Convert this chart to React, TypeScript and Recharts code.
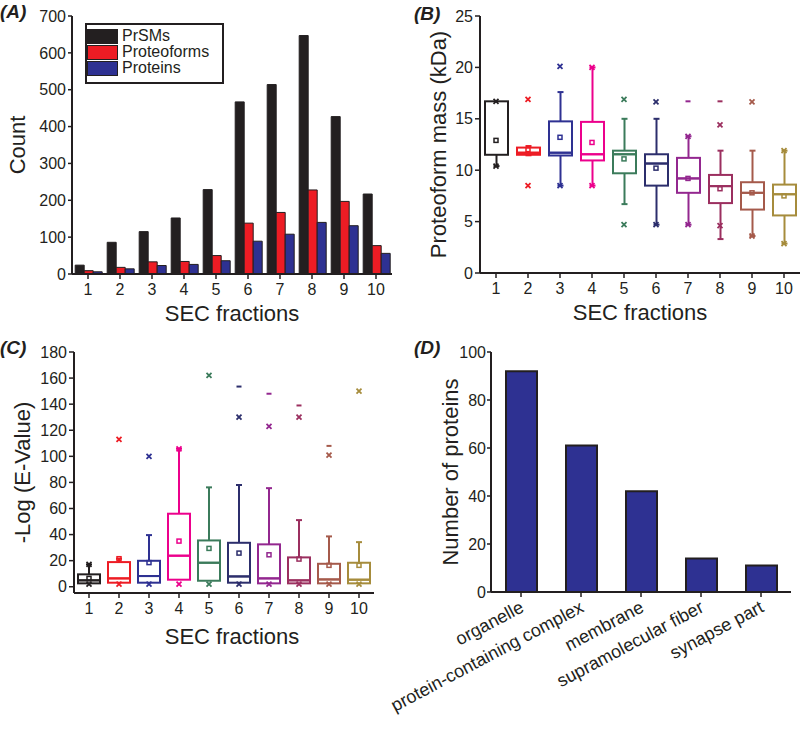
import React from 'react';
import { BarChart, Bar, ComposedChart, Scatter, XAxis, YAxis, Legend } from 'recharts';

const FONT = '"Liberation Sans", Arial, sans-serif';
const INK = '#231f20';

// (A) counts per SEC fraction
const fractions = ['1', '2', '3', '4', '5', '6', '7', '8', '9', '10'];
const seriesNames = ['PrSMs', 'Proteoforms', 'Proteins'];
const prsms = [24, 86, 115, 152, 229, 467, 514, 647, 427, 217];
const proteoforms = [9, 18, 33, 34, 50, 138, 167, 228, 197, 77];
const proteins = [6, 14, 23, 26, 36, 89, 108, 140, 131, 56];

const fractionColors = ['#231f20', '#ed1c24', '#2e3192', '#ec008c', '#3b7b5b', '#2c2e6c', '#93278f', '#9b2f5f', '#a55a4b', '#a68c3c'];

// (B) proteoform mass box plots (kDa)
const massLow = [10.4, 11.45, 8.5, 8.5, 6.7, 4.7, 4.7, 3.3, 3.6, 2.86];
const massQ1 = [11.5, 11.5, 11.43, 10.95, 9.7, 8.5, 7.8, 6.8, 6.17, 5.6];
const massMedian = [11.5, 11.7, 11.7, 11.55, 11.55, 10.65, 9.2, 8.45, 7.8, 7.66];
const massQ3 = [16.7, 12.2, 14.75, 14.7, 11.9, 11.55, 11.2, 9.54, 8.83, 8.6];
const massHigh = [16.7, 12.35, 17.6, 20.0, 15.0, 15.0, 13.3, 11.9, 11.9, 11.9];
const massMean = [12.9, 12.0, 13.2, 12.7, 11.1, 10.2, 9.2, 8.2, 7.8, 7.5];
const massCrossHigh = [16.7, 16.9, 20.1, 20.0, 16.9, 16.65, 13.3, 14.4, 16.65, 11.9];
const massCrossLow = [10.4, 8.5, 8.5, 8.5, 4.7, 4.7, 4.7, 4.6, 3.6, 2.86];
const massDash = [null, null, null, null, null, null, 16.7, 16.7, null, null];

// (C) -log(E-value) box plots
const evLow = [2.6, 3.1, 3.1, 5.4, 4.6, 3.1, 2.6, 2.6, 2.6, 2.6];
const evQ1 = [2.6, 3.1, 3.1, 5.4, 4.6, 3.1, 2.6, 2.6, 2.6, 2.6];
const evMedian = [4.9, 6.4, 8.2, 23.8, 18.4, 7.9, 6.4, 4.9, 5.6, 5.4];
const evQ3 = [9.5, 18.9, 19.9, 56.0, 35.5, 33.7, 32.5, 22.5, 17.6, 18.4];
const evHigh = [17.1, 21.5, 39.6, 105.8, 76.2, 78, 75.6, 51.1, 38.6, 34.2];
const evMean = [6.4, 21.5, 18.5, 35, 29.4, 25.8, 24.5, 21.2, 16.4, 16.4];
const evCrossHigh = [17.1, 113, 100, 105.8, 162, 130, 123, 130, 101, 150];
const evCrossLow = [2, 2, 2, 2, 2, 2, 2, 2, 2, 2];
const evDash = [null, null, null, null, null, 153.5, 148, 139, 108, null];

// (D) cellular components
const components = ['organelle', 'protein-containing complex', 'membrane', 'supramolecular fiber', 'synapse part'];
const proteinCounts = [92, 61, 42, 14, 11];

const countRows = fractions.map((f, i) => ({
    fraction: f,
    PrSMs: prsms[i],
    Proteoforms: proteoforms[i],
    Proteins: proteins[i],
}));

const boxRows = (lo: number[], q1: number[], med: number[], q3: number[], hi: number[], mean: number[],
    crossHigh: (number | null)[], crossLow: (number | null)[], dash: (number | null)[]) =>
    fractions.map((f, i) => ({
        fraction: f,
        color: fractionColors[i],
        base: lo[i],
        lowerWhisker: q1[i] - lo[i],
        lowerBox: med[i] - q1[i],
        upperBox: q3[i] - med[i],
        upperWhisker: hi[i] - q3[i],
        mean: mean[i],
        crossHigh: crossHigh[i],
        crossLow: crossLow[i],
        dash: dash[i],
    }));

const massRows = boxRows(massLow, massQ1, massMedian, massQ3, massHigh, massMean, massCrossHigh, massCrossLow, massDash);
const evRows = boxRows(evLow, evQ1, evMedian, evQ3, evHigh, evMean, evCrossHigh, evCrossLow, evDash);
const componentRows = components.map((c, i) => ({ component: c, count: proteinCounts[i] }));

const tickStyle = { fill: INK, fontSize: 16, fontFamily: FONT };
const axisLine = { stroke: INK, strokeWidth: 2 };
const tickLine = { stroke: INK, strokeWidth: 1.5 };
const titleStyle = { fill: INK, fontSize: 22, fontFamily: FONT };

const Empty = () => <g />;

const whisker = (cap: 'top' | 'bottom') => (props: any) => {
    const { x, y, width, height, payload } = props;
    if (!(height > 0)) return <g />;
    const cx = x + width / 2;
    const capY = cap === 'top' ? y : y + height;
    return (
        <g stroke={payload.color} strokeWidth={2}>
            <line x1={cx} x2={cx} y1={y} y2={y + height} />
            <line x1={cx - 3} x2={cx + 3} y1={capY} y2={capY} />
        </g>
    );
};

const BoxPart = (props: any) => {
    const { x, y, width, height, payload } = props;
    if (!(height >= 0) || !isFinite(y)) return <g />;
    return <rect x={x + 1} y={y} width={width - 2} height={height} fill="none" stroke={payload.color} strokeWidth={2} />;
};

const marker = (key: string, kind: 'cross' | 'square' | 'dash') => (props: any) => {
    const { cx, cy, payload } = props;
    if (payload == null || payload[key] == null || !isFinite(cx) || !isFinite(cy)) return <g />;
    const c = payload.color;
    if (kind === 'cross') {
        return (
            <g stroke={c} strokeWidth={1.8}>
                <line x1={cx - 2.5} x2={cx + 2.5} y1={cy - 2.5} y2={cy + 2.5} />
                <line x1={cx - 2.5} x2={cx + 2.5} y1={cy + 2.5} y2={cy - 2.5} />
            </g>
        );
    }
    if (kind === 'square') {
        return <rect x={cx - 2} y={cy - 2} width={4} height={4} fill="none" stroke={c} strokeWidth={1.5} />;
    }
    return <line x1={cx - 2.5} x2={cx + 2.5} y1={cy} y2={cy} stroke={c} strokeWidth={2} />;
};

const renderLegend = (props: any) => {
    const items = [...(props.payload || [])].sort(
        (a: any, b: any) => seriesNames.indexOf(a.value) - seriesNames.indexOf(b.value));
    return (
        <div style={{ border: `2px solid ${INK}`, width: 135, height: 54, paddingTop: 3, boxSizing: 'content-box', background: '#fff' }}>
            {items.map((entry: any) => (
                <div key={entry.value} style={{ display: 'flex', alignItems: 'center', height: 16 }}>
                    <span style={{ width: 29, height: 13, background: entry.color, border: `1px solid ${INK}`, marginRight: 4 }} />
                    <span style={{ fontFamily: FONT, fontSize: 16, color: INK, lineHeight: '16px' }}>{entry.value}</span>
                </div>
            ))}
        </div>
    );
};

const SlantTick = (props: any) => {
    const { x, y, payload } = props;
    return (
        <text x={x + 4} y={y + 12} transform={`rotate(-28, ${x + 4}, ${y + 12})`} textAnchor="end"
            fontSize={18} fontFamily={FONT} fill={INK}>
            {payload.value}
        </text>
    );
};

const panelLabel = (text: string, left: number, top: number) => (
    <div style={{ position: 'absolute', left, top, fontFamily: FONT, fontSize: 19, fontWeight: 'bold', fontStyle: 'italic', color: INK }}>
        {text}
    </div>
);

const BoxChart = ({ rows, domain, ticks, yLabel, yWidth, barSize, margin, labelOffset, xLabelDx }: any) => (
    <ComposedChart width={400} height={margin.h} data={rows} margin={{ top: margin.top, right: margin.right, bottom: margin.bottom, left: 0 }}>
        <XAxis dataKey="fraction" interval={0} height={60} tickSize={5} tickMargin={5} tick={tickStyle}
            axisLine={axisLine} tickLine={tickLine}
            label={{ value: 'SEC fractions', position: 'insideBottom', offset: margin.xLabelOffset, dx: xLabelDx, ...titleStyle }} />
        <YAxis width={yWidth} domain={domain} ticks={ticks} interval={0} allowDataOverflow tickSize={5} tickMargin={2}
            tick={tickStyle} axisLine={axisLine} tickLine={tickLine}
            label={{ value: yLabel, angle: -90, position: 'insideLeft', offset: labelOffset, ...titleStyle, style: { textAnchor: 'middle' } }} />
        <Bar dataKey="base" stackId="box" barSize={barSize} shape={Empty} isAnimationActive={false} />
        <Bar dataKey="lowerWhisker" stackId="box" barSize={barSize} shape={whisker('bottom')} isAnimationActive={false} />
        <Bar dataKey="lowerBox" stackId="box" barSize={barSize} shape={BoxPart} isAnimationActive={false} />
        <Bar dataKey="upperBox" stackId="box" barSize={barSize} shape={BoxPart} isAnimationActive={false} />
        <Bar dataKey="upperWhisker" stackId="box" barSize={barSize} shape={whisker('top')} isAnimationActive={false} />
        <Scatter dataKey="mean" shape={marker('mean', 'square')} isAnimationActive={false} />
        <Scatter dataKey="crossHigh" shape={marker('crossHigh', 'cross')} isAnimationActive={false} />
        <Scatter dataKey="crossLow" shape={marker('crossLow', 'cross')} isAnimationActive={false} />
        <Scatter dataKey="dash" shape={marker('dash', 'dash')} isAnimationActive={false} />
    </ComposedChart>
);

export default function App() {
    return (
        <div style={{ position: 'absolute', left: 0, top: 0, width: 800, height: 729, background: '#fff', overflow: 'hidden' }}>
            {/* (A) counts */}
            <div style={{ position: 'absolute', left: 0, top: 0 }}>
                <BarChart width={400} height={340} data={countRows} margin={{ top: 16, right: 8, bottom: 10, left: 0 }}
                    barCategoryGap="10%" barGap={0}>
                    <XAxis dataKey="fraction" interval={0} height={56} tickSize={5} tickMargin={5} tick={tickStyle}
                        axisLine={axisLine} tickLine={tickLine}
                        label={{ value: 'SEC fractions', position: 'insideBottom', offset: 9, ...titleStyle }} />
                    <YAxis width={72} domain={[0, 700]} ticks={[0, 100, 200, 300, 400, 500, 600, 700]} interval={0}
                        tickSize={4} tickMargin={2} tick={tickStyle} axisLine={axisLine} tickLine={tickLine}
                        label={{ value: 'Count', angle: -90, position: 'insideLeft', offset: 17, ...titleStyle, style: { textAnchor: 'middle' } }} />
                    <Legend layout="vertical" align="center" verticalAlign="middle" content={renderLegend}
                        wrapperStyle={{ left: 85, top: 23, width: 139 }} />
                    <Bar dataKey="PrSMs" fill="#231f20" stroke={INK} isAnimationActive={false} />
                    <Bar dataKey="Proteoforms" fill="#ed1c24" stroke={INK} isAnimationActive={false} />
                    <Bar dataKey="Proteins" fill="#2e3192" stroke={INK} isAnimationActive={false} />
                </BarChart>
            </div>

            {/* (B) proteoform mass */}
            <div style={{ position: 'absolute', left: 400, top: 0 }}>
                <BoxChart rows={massRows} domain={[0, 25]} ticks={[0, 5, 10, 15, 20, 25]} yLabel="Proteoform mass (kDa)"
                    yWidth={80} barSize={25} labelOffset={38} xLabelDx={0}
                    margin={{ h: 340, top: 16, right: 0, bottom: 7, xLabelOffset: 13 }} />
            </div>

            {/* (C) -Log(E-value) */}
            <div style={{ position: 'absolute', left: 0, top: 340 }}>
                <BoxChart rows={evRows} domain={[-4.8, 180]} ticks={[0, 20, 40, 60, 80, 100, 120, 140, 160, 180]}
                    yLabel="-Log (E-Value)" yWidth={74} barSize={24} labelOffset={22} xLabelDx={8}
                    margin={{ h: 389, top: 12, right: 26, bottom: 76, xLabelOffset: 9 }} />
            </div>

            {/* (D) cellular components */}
            <div style={{ position: 'absolute', left: 380, top: 340 }}>
                <BarChart width={420} height={389} data={componentRows} margin={{ top: 12, right: 9, bottom: 37, left: 0 }}>
                    <XAxis dataKey="component" interval={0} height={100} tickSize={5} tickMargin={2}
                        tick={<SlantTick />} axisLine={axisLine} tickLine={tickLine} />
                    <YAxis width={111} domain={[0, 100]} ticks={[0, 20, 40, 60, 80, 100]} interval={0}
                        tickSize={4} tickMargin={1} tick={tickStyle} axisLine={axisLine} tickLine={tickLine}
                        label={{ value: 'Number of proteins', angle: -90, position: 'insideLeft', offset: 70, ...titleStyle, style: { textAnchor: 'middle' } }} />
                    <Bar dataKey="count" fill="#2e3192" stroke={INK} strokeWidth={2} barSize={31} isAnimationActive={false} />
                </BarChart>
            </div>

            {panelLabel('(A)', 0, 1)}
            {panelLabel('(B)', 414, 3)}
            {panelLabel('(C)', 0, 337)}
            {panelLabel('(D)', 414, 337)}
        </div>
    );
}
